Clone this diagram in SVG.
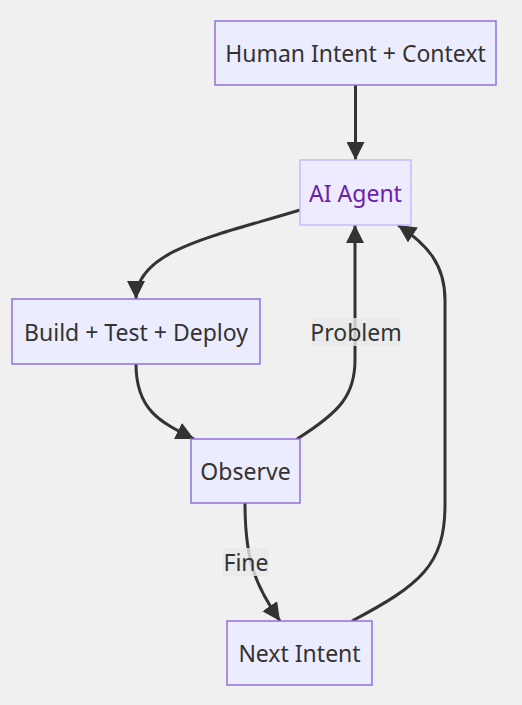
<svg xmlns="http://www.w3.org/2000/svg" width="522" height="705" viewBox="0 0 522 705">
<defs>
<style>
.node rect{fill:#ECECFF;stroke:#9370DB;stroke-width:1.5}
.node text{font-family:"Noto Sans",sans-serif;font-size:23px;fill:#333;text-anchor:middle;dominant-baseline:central}
#ai rect{fill:#EEEAFF;stroke:#C8BBFA}
#ai text{fill:#6B21A8}
.edge{fill:none;stroke:#333;stroke-width:3}
.lbl rect{fill:#e8e8e8;opacity:0.8}
.lbl text{font-family:"Noto Sans",sans-serif;font-size:23px;fill:#333;text-anchor:middle;dominant-baseline:central}
</style>
<marker id="arr" viewBox="0 0 10 10" refX="10" refY="5" markerWidth="6" markerHeight="6" markerUnits="strokeWidth" orient="auto">
<path d="M0,0 L10,5 L0,10 z" fill="#333"/>
</marker>
</defs>
<rect width="522" height="705" fill="#f0f0f0"/>
<g id="connectors">
<path class="edge" d="M355.5,85 L355.5,160" marker-end="url(#arr)"/>
<path class="edge" d="M300,210 C215,236 136,250 136,299" marker-end="url(#arr)"/>
<path class="edge" d="M136,364 C136,410 160,422 194,439" marker-end="url(#arr)"/>
<path class="edge" d="M297,439 C340,412 355,395 355,360 L355,225" marker-end="url(#arr)"/>
<path class="edge" d="M245,503 C245,560 255,585 280,621" marker-end="url(#arr)"/>
<path class="edge" d="M352,621 C420,585 445,565 445,505 L445,300 C445,265 428,245 398,225" marker-end="url(#arr)"/>
</g>
<g id="labels">
<g class="lbl"><rect x="312" y="318" width="88" height="28"/><text x="356" y="332">Problem</text></g>
<g class="lbl"><rect x="223" y="548" width="46" height="28"/><text x="246" y="562">Fine</text></g>
</g>
<g id="human" class="node"><rect x="215" y="21" width="281" height="64"/><text x="355.5" y="53">Human Intent + Context</text></g>
<g id="ai" class="node"><rect x="300" y="160" width="111" height="65"/><text x="355.5" y="192.5">AI Agent</text></g>
<g id="build" class="node"><rect x="12" y="299" width="248" height="65"/><text x="136" y="331.5">Build + Test + Deploy</text></g>
<g id="observe" class="node"><rect x="191" y="439" width="109" height="64"/><text x="245.5" y="471">Observe</text></g>
<g id="next" class="node"><rect x="227" y="621" width="145" height="64"/><text x="299.5" y="653">Next Intent</text></g>
</svg>
